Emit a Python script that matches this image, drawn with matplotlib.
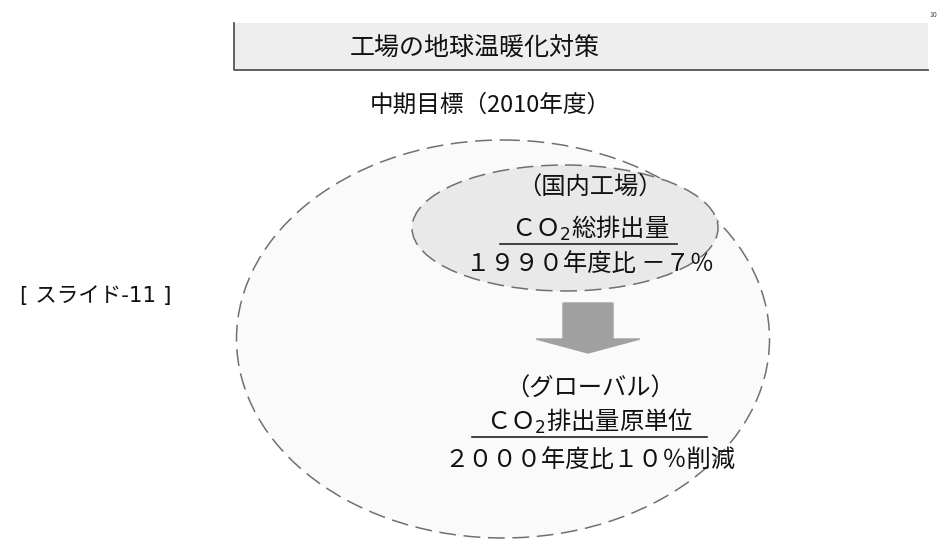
import matplotlib
matplotlib.use("Agg")
import matplotlib.pyplot as plt
from matplotlib.patches import Ellipse, Rectangle, FancyArrow

plt.rcParams['font.family'] = ['Noto Sans CJK JP', 'DejaVu Sans']

title = "工場の地球温暖化対策"
subtitle = "中期目標（2010年度）"
slide_label = "[ スライド-11 ]"
inner_lines = ["（国内工場）", "ＣＯ$_2$総排出量", "１９９０年度比 －７％"]
outer_lines = ["（グローバル）", "ＣＯ$_2$排出量原単位", "２０００年度比１０％削減"]

fig = plt.figure(figsize=(9.38, 5.42), dpi=100)
ax = fig.add_axes([0, 0, 1, 1])
ax.set_xlim(0, 938)
ax.set_ylim(542, 0)
ax.axis('off')

# title bar
ax.add_patch(Rectangle((234, 23), 694, 47, facecolor='#eeeeee', edgecolor='none'))
ax.plot([234, 234, 928], [23, 70, 70], color='#555555', lw=1.3)
ax.text(475, 48, title, ha='center', va='center', fontsize=18, color='#111111')
ax.text(490, 105, subtitle, ha='center', va='center', fontsize=17, color='#111111')
ax.text(937, 15, "10", ha='right', va='center', fontsize=5, color='#444444')

# outer ellipse
ax.add_patch(Ellipse((503, 339), 533, 398, facecolor='#fafafa', edgecolor='#707070',
                     lw=1.1, linestyle=(0, (11, 5))))
# inner ellipse
ax.add_patch(Ellipse((565, 228), 306, 126, facecolor='#e9e9e9', edgecolor='#707070',
                     lw=1.1, linestyle=(0, (11, 5))))

# arrow
ax.add_patch(FancyArrow(588, 303, 0, 50, width=50, head_width=104, head_length=14,
                        length_includes_head=True, facecolor='#a0a0a0', edgecolor='#a0a0a0'))

def block(lines, x, ys):
    for s, y in zip(lines, ys):
        ax.text(x, y, s, ha='center', va='center', fontsize=17.5, color='#111111')

block(inner_lines, 590, [188, 228, 264])
ax.plot([500, 677], [244, 244], color='#222222', lw=1.2)
block(outer_lines, 590, [389, 421, 460])
ax.plot([472, 707], [437, 437], color='#222222', lw=1.2)

ax.text(20, 296, slide_label, ha='left', va='center', fontsize=15.5, color='#111111',
        family=['DejaVu Sans', 'Noto Sans CJK JP'])

fig.savefig("out.png", dpi=100)
